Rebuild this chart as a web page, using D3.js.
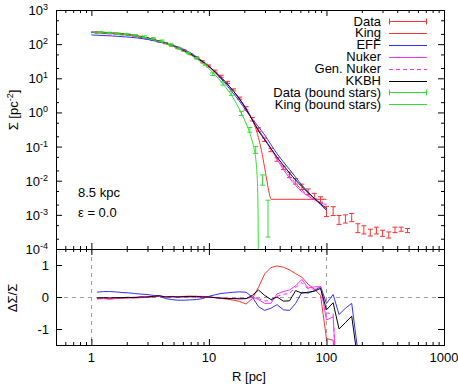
<!DOCTYPE html>
<html>
<head>
<meta charset="utf-8">
<script src="https://d3js.org/d3.v7.min.js"></script>
<style>
  body { margin:0; background:#fff; }
  svg text { font-family:"Liberation Sans", Arial, Helvetica, sans-serif; font-size:13px; fill:#000; }
  .frame { fill:none; stroke:#000; stroke-width:1; }
  .curve { fill:none; stroke-width:1; }
  .grid { stroke:#a0a0a0; stroke-width:1; stroke-dasharray:4,4; }
</style>
</head>
<body>
<svg id="chart" width="458" height="386"></svg>
<script>
// ---- data (Sigma values are log10) ----
var binR = [1.12,1.27,1.43,1.61,1.82,2.06,2.32,2.62,2.97,3.35,3.78,4.27,4.82,5.44,6.14,6.94,7.83,8.84,9.98,11.3,
            12.7,14.4,16.2,18.3,20.7,23.4,26.4,29.8,33.7,38.0,43.0,48.5,54.7,61.8,69.8,78.8,89.1,100,114,128,
            145,164,185,208,236,266,300,339,383,432,489];
var dataLogS = [2.34,2.33,2.32,2.31,2.29,2.27,2.25,2.21,2.17,2.13,2.08,2.03,1.96,1.89,1.81,1.71,1.60,1.48,1.36,1.21,
                1.06,0.88,0.66,0.42,0.12,-0.20,-0.50,-0.80,-1.10,-1.38,-1.62,-1.83,-2.02,-2.18,-2.32,-2.45,-2.55,-2.90,-2.89,-3.15,
                -3.12,-3.08,-3.39,-3.44,-3.52,-3.46,-3.54,-3.59,-3.44,-3.42,-3.46];
var dataErr = [0.02,0.02,0.02,0.02,0.02,0.02,0.02,0.02,0.02,0.02,0.02,0.02,0.02,0.02,0.02,0.02,0.03,0.03,0.03,0.03,
               0.03,0.03,0.03,0.03,0.05,0.05,0.05,0.05,0.05,0.05,0.05,0.08,0.08,0.08,0.08,0.08,0.08,0.15,0.13,0.13,
               0.12,0.12,0.13,0.12,0.10,0.10,0.09,0.09,0.08,0.06,0.06];

var boundR = [1.2,1.42,1.69,2.0,2.38,2.83,3.36,3.99,4.74,5.63,6.68,7.94,9.3,10.8,13.2,15.5,18.9,22.3,25.0,28.6,31.8];
var boundLogS = [2.35,2.33,2.31,2.29,2.26,2.22,2.17,2.10,1.99,1.87,1.74,1.59,1.40,1.12,0.85,0.56,-0.03,-0.51,-1.10,-1.98,-3.0];
var boundErrLo = [0.02,0.02,0.02,0.02,0.02,0.02,0.02,0.02,0.02,0.02,0.02,0.02,0.02,0.04,0.05,0.06,0.06,0.07,0.10,0.15,0.65];
var boundErrHi = [0.02,0.02,0.02,0.02,0.02,0.02,0.02,0.02,0.02,0.02,0.02,0.02,0.02,0.04,0.05,0.06,0.06,0.07,0.10,0.15,0.43];

var modelR = [1,1.5,2,3,4,5,6,7,8,10,12,14,16,18,20.7,23.4,26.4,29.8,33.7,38,43,48.5,54.7,61.8,69.8,78.8,89,100];
var kkbhLogS = [2.35,2.32,2.28,2.18,2.06,1.94,1.82,1.70,1.58,1.35,1.10,0.87,0.64,0.42,0.10,-0.22,-0.54,-0.80,-1.06,-1.31,
                -1.55,-1.77,-1.98,-2.17,-2.35,-2.52,-2.67,-2.82];
var effLogS = [2.27,2.24,2.21,2.14,2.04,1.96,1.86,1.74,1.61,1.35,1.07,0.82,0.57,0.35,0.05,-0.19,-0.42,-0.66,-0.94,-1.21,
               -1.45,-1.67,-1.90,-2.13,-2.33,-2.52,-2.70,-2.87];
var nukerLogS = [2.35,2.32,2.28,2.18,2.06,1.94,1.82,1.70,1.58,1.35,1.10,0.87,0.64,0.42,0.11,-0.20,-0.51,-0.77,-1.06,-1.37,
                 -1.67,-1.92,-2.14,-2.32,-2.45,-2.56,-2.65,-2.70];
var genNukerLogS = [2.34,2.31,2.27,2.18,2.06,1.94,1.82,1.70,1.58,1.35,1.10,0.87,0.64,0.42,0.11,-0.21,-0.52,-0.78,-1.05,-1.34,
                    -1.62,-1.86,-2.08,-2.27,-2.42,-2.54,-2.64,-2.68];

var kingR = [1,1.5,2,3,4,5,6,7,8,10,12,14,16,18,20.7,22,23.4,24.5,26.4,28,29.8,31.5,33,33.8,50,100];
var kingLogS = [2.35,2.32,2.28,2.18,2.06,1.94,1.82,1.70,1.58,1.35,1.10,0.87,0.64,0.42,0.12,-0.03,-0.22,-0.38,-0.74,-1.12,
                -1.62,-2.1,-2.45,-2.545,-2.545,-2.545];

var kingBoundR = [1,1.5,2,3,4,5,6,7,8,9,10,11,12,13,14,15,16,17,18,19,20,21,22,23,24,25,25.6,26.0,26.2,26.35];
var kingBoundLogS = [2.35,2.32,2.28,2.17,2.05,1.93,1.80,1.68,1.55,1.42,1.28,1.14,1.00,0.86,0.72,0.58,0.44,0.28,0.12,-0.04,
                     -0.20,-0.37,-0.55,-0.76,-1.00,-1.35,-1.75,-2.3,-3.0,-4.2];

// residuals dSigma/Sigma at binR
var resKing = [-0.06,-0.05,-0.07,-0.05,-0.04,-0.03,-0.03,-0.02,-0.01,0.00,0.02,0.00,0.02,0.01,0.02,0.03,0.02,0.02,0.00,-0.02,
               -0.04,-0.07,-0.10,-0.14,-0.22,-0.05,0.30,0.72,0.92,0.97,0.93,0.85,0.73,0.62,0.40,0.25,0.05,-1.30,-1.35,-4.0];
var resEFF = [0.15,0.17,0.17,0.16,0.14,0.13,0.11,0.09,0.08,0.05,0.03,-0.05,-0.08,-0.10,-0.10,-0.09,-0.08,-0.05,0.02,0.07,
              0.11,0.13,0.15,0.16,0.15,0.00,-0.30,-0.42,-0.35,-0.24,-0.40,-0.42,-0.20,0.15,0.12,0.20,0.33,-0.20,0.08,-0.55,
              -0.35,-0.20,-1.70];
var resNuker = [-0.04,-0.03,-0.04,-0.03,-0.02,-0.02,-0.01,0.00,0.00,0.02,0.03,0.01,0.01,0.00,0.01,0.01,0.00,-0.01,0.00,-0.02,
                -0.03,-0.04,-0.05,-0.04,-0.05,0.00,-0.08,-0.20,-0.20,0.10,0.17,0.22,0.35,0.55,0.28,0.32,0.32,-0.72,-0.62,-4.0];
var resGenNuker = [-0.04,-0.03,-0.04,-0.03,-0.02,-0.02,-0.01,0.00,0.00,0.02,0.03,0.01,0.01,0.00,0.01,0.01,0.00,-0.01,0.00,-0.02,
                   -0.03,-0.04,-0.05,-0.04,-0.05,0.00,-0.05,-0.12,-0.12,0.02,0.08,0.12,0.30,0.45,0.25,0.25,0.30,-0.50,-0.52,-4.0];
var resKKBH = [-0.03,-0.02,-0.03,-0.02,-0.02,-0.01,-0.02,0.00,0.00,0.02,0.04,0.00,0.01,0.00,0.01,0.01,0.02,0.00,0.00,-0.02,
               -0.04,-0.05,-0.05,-0.06,-0.05,0.05,0.22,0.05,-0.08,0.00,-0.13,-0.12,0.20,0.12,0.15,0.18,0.27,-0.40,-0.18,-1.00,
               -0.80,-0.60,-2.00];

// ticks and labels
var xMajor = [1,10,100,1000];
var xTickLabels = ['1','10','100','1000'];
var xMinorMult = [2,3,4,5,6,7,8,9];
var yExp = [-4,-3,-2,-1,0,1,2,3];
var yMinorMult = [2,5];
var resTicks = [-1,0,1];
var resTickLabels = ['-1','0','1'];
var legendLabels = ['Data','King','EFF','Nuker','Gen. Nuker','KKBH','Data (bound stars)','King (bound stars)'];

// colours
var cRed = '#ff3030', cBlue = '#3030ff', cMag = '#ff30ff', cBlack = '#000', cGreen = '#30e030';

// ---- layout ----
var L = 56, R = 444, T = 10, M = 249, B = 345;
var x = d3.scaleLog().domain([0.5, 1000]).range([L, R]);
var yTop = d3.scaleLog().domain([1e-4, 1e3]).range([M, T]);
var yBot = d3.scaleLinear().domain([-1.5, 1.5]).range([B, M]);
var pow = function(v){ return Math.pow(10, v); };

var svg = d3.select('#chart');
svg.append('rect').attr('width',458).attr('height',386).attr('fill','#fff');

svg.append('clipPath').attr('id','clipTop').append('rect')
   .attr('x',L).attr('y',T).attr('width',R-L).attr('height',M-T);
svg.append('clipPath').attr('id','clipBot').append('rect')
   .attr('x',L).attr('y',M).attr('width',R-L).attr('height',B-M);

// grid in residual panel
var grid = svg.append('g').attr('class','grid');
[1,100].forEach(function(v){
  grid.append('line').attr('x1',Math.round(x(v))+0.5).attr('x2',Math.round(x(v))+0.5).attr('y1',M).attr('y2',B);
});
grid.append('line').attr('x1',L).attr('x2',R).attr('y1',Math.round(yBot(0))+0.5).attr('y2',Math.round(yBot(0))+0.5);

// ---- tick helpers ----
var xMinor = [];
[0.1,1,10,100].forEach(function(d){ xMinorMult.forEach(function(m){ var v=m*d; if (v>0.5 && v<1000) xMinor.push(v); }); });
var yMinor = [];
yExp.forEach(function(e){ if (e<3) yMinorMult.forEach(function(m){ yMinor.push(m*pow(e)); }); });
var yMajor = yExp.map(pow);

function tickSet(g, axis, vals, size){
  g.call(axis.tickValues(vals).tickSize(size).tickFormat(''));
  g.select('.domain').remove();
  g.selectAll('.tick line').attr('stroke','#000');
}
function xTicks(yPos, dirUp){
  var ax = dirUp ? d3.axisBottom : d3.axisTop;
  tickSet(svg.append('g').attr('transform','translate(0,'+yPos+')'), ax(x), xMajor, -6);
  tickSet(svg.append('g').attr('transform','translate(0,'+yPos+')'), ax(x), xMinor, -3);
}
xTicks(M, true); xTicks(T, false); xTicks(M, false); xTicks(B, true);
tickSet(svg.append('g').attr('transform','translate('+L+',0)'), d3.axisLeft(yTop), yMajor, -6);
tickSet(svg.append('g').attr('transform','translate('+L+',0)'), d3.axisLeft(yTop), yMinor, -3);
tickSet(svg.append('g').attr('transform','translate('+R+',0)'), d3.axisRight(yTop), yMajor, -6);
tickSet(svg.append('g').attr('transform','translate('+R+',0)'), d3.axisRight(yTop), yMinor, -3);
tickSet(svg.append('g').attr('transform','translate('+L+',0)'), d3.axisLeft(yBot), resTicks, -6);
tickSet(svg.append('g').attr('transform','translate('+R+',0)'), d3.axisRight(yBot), resTicks, -6);

// ---- top panel ----
var topG = svg.append('g').attr('clip-path','url(#clipTop)');
var lineTop = d3.line().curve(d3.curveMonotoneX)
  .x(function(d){ return x(d[0]); }).y(function(d){ return yTop(pow(d[1])); });

function errorBars(rs, vals, lo, hi, color){
  var g = topG.append('g').attr('stroke', color).attr('stroke-width',1);
  var pts = rs.map(function(r,i){ return {x:x(r), y0:yTop(pow(vals[i]-lo[i])), y1:yTop(pow(vals[i]+hi[i]))}; });
  g.selectAll('.v').data(pts).enter().append('line')
    .attr('x1',function(d){return d.x;}).attr('x2',function(d){return d.x;})
    .attr('y1',function(d){return d.y0;}).attr('y2',function(d){return d.y1;});
  ['y0','y1'].forEach(function(k){
    g.selectAll('.c'+k).data(pts).enter().append('line')
      .attr('x1',function(d){return d.x-2.5;}).attr('x2',function(d){return d.x+2.5;})
      .attr('y1',function(d){return d[k];}).attr('y2',function(d){return d[k];});
  });
}
function curve(rs, vals, color, dash){
  topG.append('path').attr('class','curve')
    .attr('d', lineTop(rs.map(function(r,i){ return [r, vals[i]]; })))
    .attr('stroke', color).attr('stroke-dasharray', dash || null);
}

errorBars(binR, dataLogS, dataErr, dataErr, cRed);
curve(kingR, kingLogS, cRed);
curve(modelR, effLogS, cBlue);
curve(modelR, nukerLogS, cMag);
curve(modelR, genNukerLogS, cMag, '4,3');
curve(modelR, kkbhLogS, cBlack);
errorBars(boundR, boundLogS, boundErrLo, boundErrHi, cGreen);
curve(kingBoundR, kingBoundLogS, cGreen);

// ---- residual panel ----
var botG = svg.append('g').attr('clip-path','url(#clipBot)');
var lineBot = d3.line().x(function(d){ return x(d[0]); }).y(function(d){ return yBot(d[1]); });
function resCurve(vals, color, dash){
  botG.append('path').attr('class','curve')
    .attr('d', lineBot(vals.map(function(v,i){ return [binR[i], v]; })))
    .attr('stroke', color).attr('stroke-dasharray', dash || null);
}
resCurve(resKing, cRed);
resCurve(resEFF, cBlue);
resCurve(resNuker, cMag);
resCurve(resGenNuker, cMag, '4,3');
resCurve(resKKBH, cBlack);

// frames
svg.append('rect').attr('class','frame').attr('x',L+0.5).attr('y',T+0.5).attr('width',R-L).attr('height',M-T);
svg.append('rect').attr('class','frame').attr('x',L+0.5).attr('y',M+0.5).attr('width',R-L).attr('height',B-M);

// ---- labels ----
svg.selectAll('.xl').data(xMajor).enter().append('text')
  .attr('x', function(d){ return x(d); }).attr('y', 362).attr('text-anchor','middle')
  .text(function(d,i){ return xTickLabels[i]; });

svg.selectAll('.yl').data(yExp).enter().append('text')
  .attr('x', 48).attr('y', function(d){ return yTop(pow(d)) + 5; }).attr('text-anchor','end')
  .each(function(d){
    var t = d3.select(this);
    t.append('tspan').text('10');
    t.append('tspan').attr('dy', -5).style('font-size','9px').text(String(d));
  });

svg.selectAll('.rl').data(resTicks).enter().append('text')
  .attr('x', 49).attr('y', function(d){ return yBot(d) + 4.5; }).attr('text-anchor','end')
  .text(function(d,i){ return resTickLabels[i]; });

svg.append('text').attr('x', 249).attr('y', 381).attr('text-anchor','middle').text('R [pc]');

var yl = svg.append('text').attr('transform','translate(18,110) rotate(-90)').attr('text-anchor','middle');
yl.append('tspan').text('\u03A3 [pc');
yl.append('tspan').attr('dy',-5).style('font-size','9px').text('-2');
yl.append('tspan').attr('dy',5).text(']');

svg.append('text').attr('transform','translate(17,298) rotate(-90)').attr('text-anchor','middle').text('\u0394\u03A3/\u03A3');

svg.append('text').attr('x', 78).attr('y', 197).text('8.5 kpc');
svg.append('text').attr('x', 78).attr('y', 217).text('\u03B5 = 0.0');

// ---- legend ----
var legStyle = [
  {c:cRed, bar:true}, {c:cRed}, {c:cBlue}, {c:cMag}, {c:cMag, dash:'4,3'}, {c:cBlack}, {c:cGreen, bar:true}, {c:cGreen}
];
var lg = svg.append('g');
legendLabels.forEach(function(lab, i){
  var yy = 21 + i * 11.9;
  lg.append('text').attr('x', 381).attr('y', yy + 4.5).attr('text-anchor','end').text(lab);
  var s = legStyle[i];
  var ly = Math.round(yy) + 0.5;
  lg.append('line').attr('x1',389).attr('x2',427).attr('y1',ly).attr('y2',ly)
    .attr('stroke', s.c).attr('stroke-dasharray', s.dash || null);
  if (s.bar) {
    [389.5, 426.5].forEach(function(xx){
      lg.append('line').attr('x1',xx).attr('x2',xx).attr('y1',ly-3).attr('y2',ly+3).attr('stroke', s.c);
    });
  }
});
</script>
</body>
</html>
